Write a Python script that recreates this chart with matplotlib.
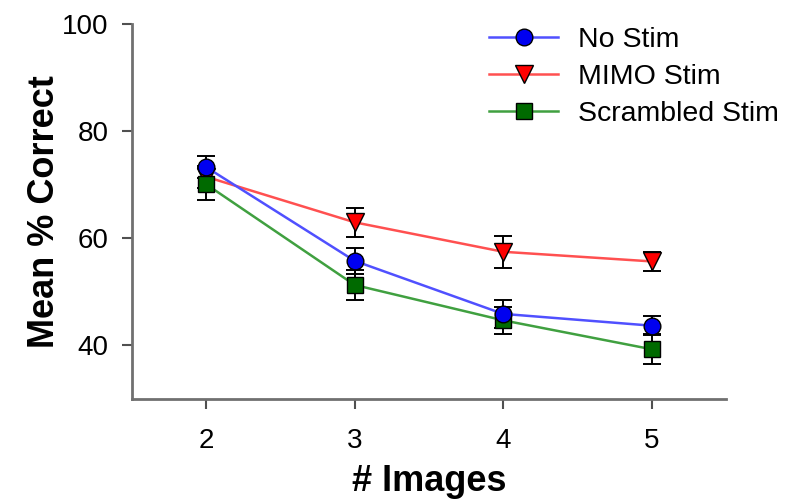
import matplotlib
matplotlib.use("Agg")
from matplotlib import pyplot as plt

# values
n_images = [2, 3, 4, 5]

no_stim = [73.3, 55.8, 45.9, 43.7]
no_stim_err = [2.0, 2.4, 2.6, 1.8]

mimo_stim = [71.5, 63.0, 57.5, 55.7]
mimo_stim_err = [2.0, 2.7, 3.0, 1.7]

scrambled_stim = [70.1, 51.3, 44.7, 39.3]
scrambled_stim_err = [3.0, 2.8, 2.5, 2.8]

yticks = [40, 60, 80, 100]

plt.rcParams['font.family'] = ['Liberation Sans', 'DejaVu Sans']

fig = plt.figure(figsize=(7.88, 5.04), dpi=100)
ax = fig.add_axes([0.1675, 0.2083, 0.7535, 0.7437])

series = [
    (mimo_stim, mimo_stim_err, "#ff5050", "#ff0000", "v", "MIMO Stim", 12.5),
    (scrambled_stim, scrambled_stim_err, "#40a040", "#006a00", "s", "Scrambled Stim", 11.5),
    (no_stim, no_stim_err, "#5050ff", "#0000f0", "o", "No Stim", 12),
]
handles = {}
for values, errs, line_c, face_c, marker, label, ms in series:
    ax.errorbar(n_images, values, yerr=errs, fmt="none", ecolor="black",
                elinewidth=1.4, capsize=6.5, capthick=1.4, zorder=2)
    h, = ax.plot(n_images, values, color=line_c, lw=1.8, marker=marker,
                 markersize=ms, markerfacecolor=face_c, markeredgecolor="black",
                 markeredgewidth=1.0, label=label, zorder=3)
    handles[label] = h

ax.set_xlim(1.5, 5.5)
ax.set_ylim(30, 100)
ax.set_xticks(n_images)
ax.set_yticks(yticks)

for side in ["top", "right"]:
    ax.spines[side].set_visible(False)
for side in ["left", "bottom"]:
    ax.spines[side].set_color("#707070")
    ax.spines[side].set_linewidth(2)
ax.tick_params(direction="out", length=7, width=1.5, color="#505050",
               labelsize=20, pad=10)
ax.tick_params(axis="x", pad=14)

ax.set_xlabel("# Images", fontsize=26, fontweight="bold", labelpad=7)
ax.set_ylabel("Mean % Correct", fontsize=26, fontweight="bold", labelpad=0)

order = ["No Stim", "MIMO Stim", "Scrambled Stim"]
ax.legend([handles[k] for k in order], order, loc="upper right",
          bbox_to_anchor=(1.132, 1.06), frameon=False, fontsize=20.5,
          handlelength=2.4, labelspacing=0.38, handletextpad=0.7)

fig.savefig("out.png", dpi=100)
